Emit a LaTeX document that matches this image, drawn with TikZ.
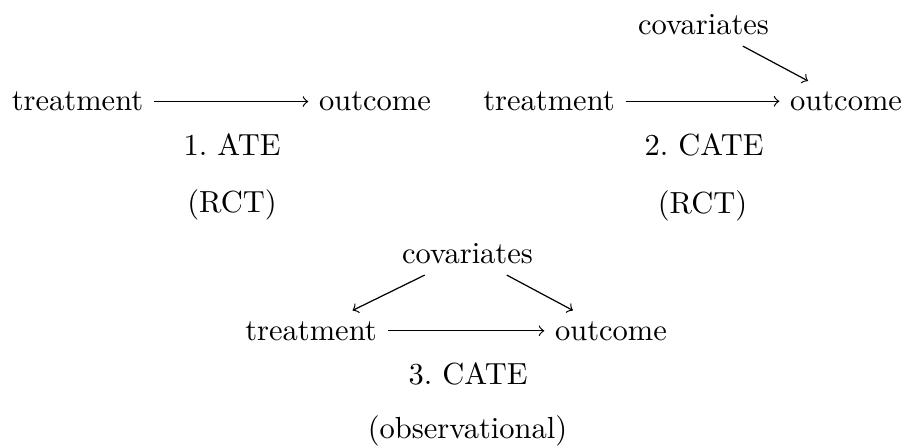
\documentclass[tikz,border=0pt]{standalone}
\usepackage{amsmath,amssymb}
\usepackage{tikz}

\begin{document}
\begin{tikzpicture}[every node/.style={anchor=base}]
    \useasboundingbox (0, 0) rectangle (10.449, -5.138);
    % 1. ATE
    \node (t1) at (0.893, -1.276) {treatment};
    \node (o1) at (4.320, -1.276) {outcome};
    \node (l1) at (2.673, -1.797) {1.\ ATE};
    \node (r1) at (2.673, -2.445) {(RCT)};
    \draw [->] (t1) to (o1);
    % 2. CATE
    \node (t2) at (6.325, -1.273) {treatment};
    \node (o2) at (9.747, -1.273) {outcome};
    \node (c2) at (8.105, -0.403) {covariates};
    \node (l2) at (8.111, -1.786) {2.\ CATE};
    \node (r2) at (8.093, -2.454) {(RCT)};
    \draw [->] (t2) to (o2);
    \draw [->] (c2) to (o2);
    % 3. CATE
    \node (c3) at (5.386, -3.041) {covariates};
    \node (t3) at (3.583, -3.917) {treatment};
    \node (o3) at (7.039, -3.917) {outcome};
    \node (l3) at (5.392, -4.435) {3.\ CATE};
    \node (r3) at (5.386, -5.046) {(observational)};
    \draw [->] (t3) to (o3);
    \draw [->] (c3) to (t3);
    \draw [->] (c3) to (o3);
  \end{tikzpicture}
\end{document}
